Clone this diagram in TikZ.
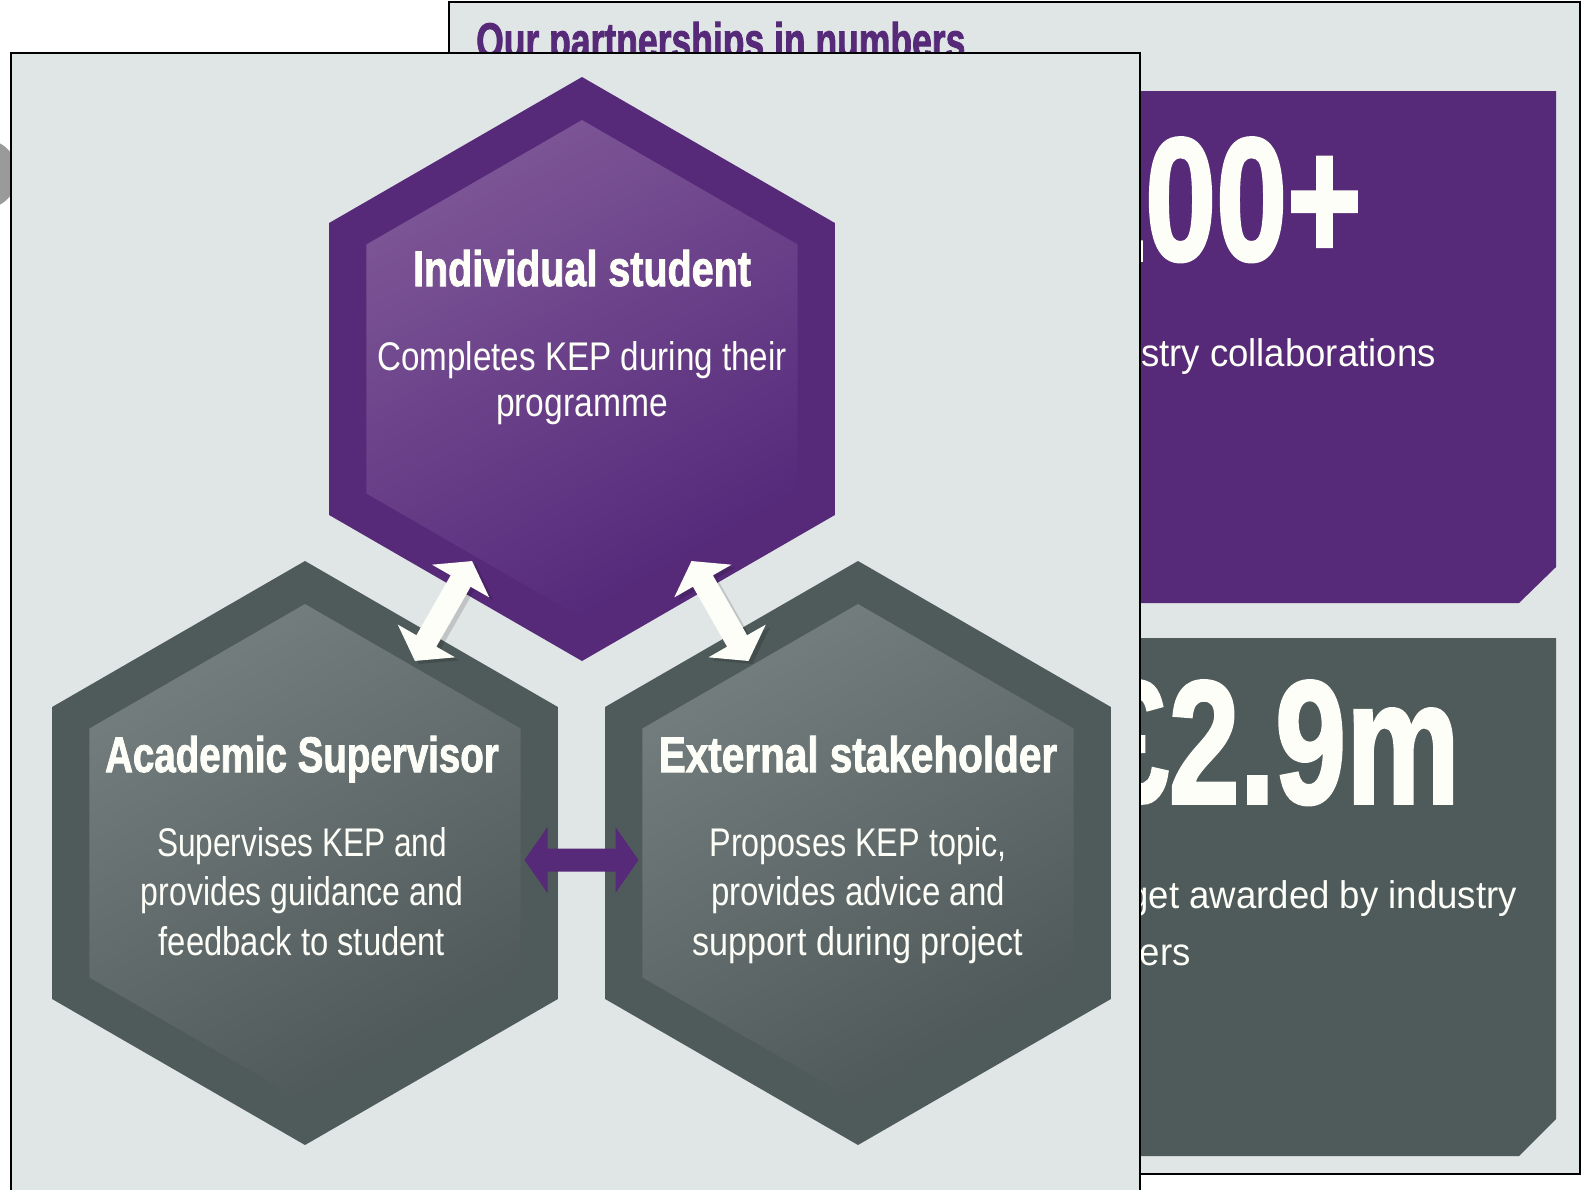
\documentclass[tikz,border=0pt]{standalone}
\usepackage{fontspec}
\setmainfont{Liberation Sans}
\newfontfamily\heavyfont{Liberation Sans}[BoldFeatures={FakeBold=2}]
\usetikzlibrary{calc,shapes.geometric}
\definecolor{panel}{HTML}{E0E5E5}
\definecolor{kpurple}{HTML}{562A78}
\definecolor{kpurplelt}{HTML}{7D5696}
\definecolor{kpurpledk}{HTML}{54287A}
\definecolor{kgray}{HTML}{4F5A5A}
\definecolor{kgraylt}{HTML}{747E7E}
\definecolor{kgraydk}{HTML}{4E5858}
\definecolor{ktext}{HTML}{FDFEF7}
\definecolor{kcircle}{HTML}{9A9A9A}
\newcommand\cx[2]{\scalebox{#1}[1]{#2}}
% double arrow between two named nodes: #1 style, #2 node a, #3 node b, #4 half length, #5 half length minus head, #6 shift
\newcommand\dblarr[6]{%
  \fill[#1] let \p1=(#2.center), \p2=(#3.center), \n1={atan2(\y2-\y1,\x2-\x1)},
    \p3=($(#2.center)!0.5!(#3.center)+(#6)$) in
    ($(\p3)+(\n1:#4pt)$)
 -- ($(\p3)+(\n1:#5pt)+(\n1+90:33pt)$)
 -- ($(\p3)+(\n1:#5pt)+(\n1+90:11.5pt)$)
 -- ($(\p3)+(\n1+180:#5pt)+(\n1+90:11.5pt)$)
 -- ($(\p3)+(\n1+180:#5pt)+(\n1+90:33pt)$)
 -- ($(\p3)+(\n1+180:#4pt)$)
 -- ($(\p3)+(\n1+180:#5pt)+(\n1-90:33pt)$)
 -- ($(\p3)+(\n1+180:#5pt)+(\n1-90:11.5pt)$)
 -- ($(\p3)+(\n1:#5pt)+(\n1-90:11.5pt)$)
 -- ($(\p3)+(\n1:#5pt)+(\n1-90:33pt)$) -- cycle;}
\tikzset{
  hexout/.style={regular polygon, regular polygon sides=6, shape border rotate=30,
    minimum size=584pt, inner sep=0pt, outer sep=0pt, draw=none},
  hexin/.style={regular polygon, regular polygon sides=6, shape border rotate=30,
    minimum size=498pt, inner sep=0pt, outer sep=0pt, draw=none},
  htitle/.style={font=\heavyfont\bfseries\fontsize{50}{60}\selectfont, text=ktext, anchor=base, inner sep=0pt},
  hbody/.style={font=\fontsize{40}{48}\selectfont, text=ktext, anchor=base, inner sep=0pt},
  bignum/.style={font=\heavyfont\bfseries\fontsize{175}{175}\selectfont, text=ktext, anchor=base east, inner sep=0pt},
  boxtext/.style={font=\fontsize{38.5}{46}\selectfont, text=ktext, inner sep=0pt},
  paneldraw/.style={fill=panel, draw=black, line width=2.5pt}
}
\begin{document}
\begin{tikzpicture}[x=1pt,y=-1pt]
\useasboundingbox (0,0) rectangle (1582,1189);
\fill[white] (0,0) rectangle (1582,1189);
% partial grey circle at the left edge
\fill[kcircle] (-17,174) circle[radius=35pt];
% back panel
\draw[paneldraw] (449,2) rectangle (1580,1174);
\node[anchor=base west, font=\heavyfont\bfseries\fontsize{50}{60}\selectfont, text=kpurple, inner sep=0pt]
  (ttl) at (476,58) {\cx{0.71}{Our partnerships in numbers}};
% stat boxes
\fill[kpurple] (1100,91) -- (1556,91) -- (1556,567) -- (1519,603) -- (1100,603) -- cycle;
\fill[kgray] (1100,638) -- (1556,638) -- (1556,1119) -- (1519,1156) -- (1100,1156) -- cycle;
\node[bignum] (num1) at (1362,260) {\cx{0.73}{100+}};
\node[boxtext, anchor=base east] (num1t) at (1436,366) {\cx{0.95}{industry collaborations}};
\node[bignum] (num2) at (1460,803) {\cx{0.73}{£2.9m}};
\node[boxtext, anchor=base east] (num2t) at (1517,908) {\cx{0.95}{Budget awarded by industry}};
\node[boxtext, anchor=base east] (num2u) at (1191,965) {\cx{0.95}{partners}};
% front panel
\draw[paneldraw] (11,53) rectangle (1140,1200);
% hexagons
\node[hexout, fill=kpurple] (top) at (582,369) {};
\node[hexin, top color=kpurplelt, bottom color=kpurpledk, shading angle=30] (topi) at (582,369) {};
\node[hexout, fill=kgray] (bl) at (305,853) {};
\node[hexin, top color=kgraylt, bottom color=kgraydk, shading angle=30] (bli) at (305,853) {};
\node[hexout, fill=kgray] (br) at (858,853) {};
\node[hexin, top color=kgraylt, bottom color=kgraydk, shading angle=30] (bri) at (858,853) {};
% texts
\node[htitle] (t1) at (582,286) {\cx{0.79}{Individual student}};
\node[hbody] (t1a) at (582,370) {\cx{0.83}{Completes KEP during their}};
\node[hbody] (t1b) at (582,416) {\cx{0.84}{programme}};
\node[htitle] (t2) at (302,772) {\cx{0.77}{Academic Supervisor}};
\node[hbody] (t2a) at (302,856) {\cx{0.79}{Supervises KEP and}};
\node[hbody] (t2b) at (302,905) {\cx{0.80}{provides guidance and}};
\node[hbody] (t2c) at (302,955) {\cx{0.82}{feedback to student}};
\node[htitle] (t3) at (858,772) {\cx{0.81}{External stakeholder}};
\node[hbody] (t3a) at (858,856) {\cx{0.81}{Proposes KEP topic,}};
\node[hbody] (t3b) at (858,905) {\cx{0.826}{provides advice and}};
\node[hbody] (t3c) at (858,955) {\cx{0.855}{support during project}};
% connectors
\dblarr{black, opacity=0.14}{top}{bl}{57.5}{34.5}{4,3}
\dblarr{black, opacity=0.14}{top}{br}{57.5}{34.5}{4,3}
\dblarr{ktext}{top}{bl}{57.5}{34.5}{0,0}
\dblarr{ktext}{top}{br}{57.5}{34.5}{0,0}
\dblarr{kpurple}{bl}{br}{57}{34}{0,7}
\end{tikzpicture}
\end{document}
